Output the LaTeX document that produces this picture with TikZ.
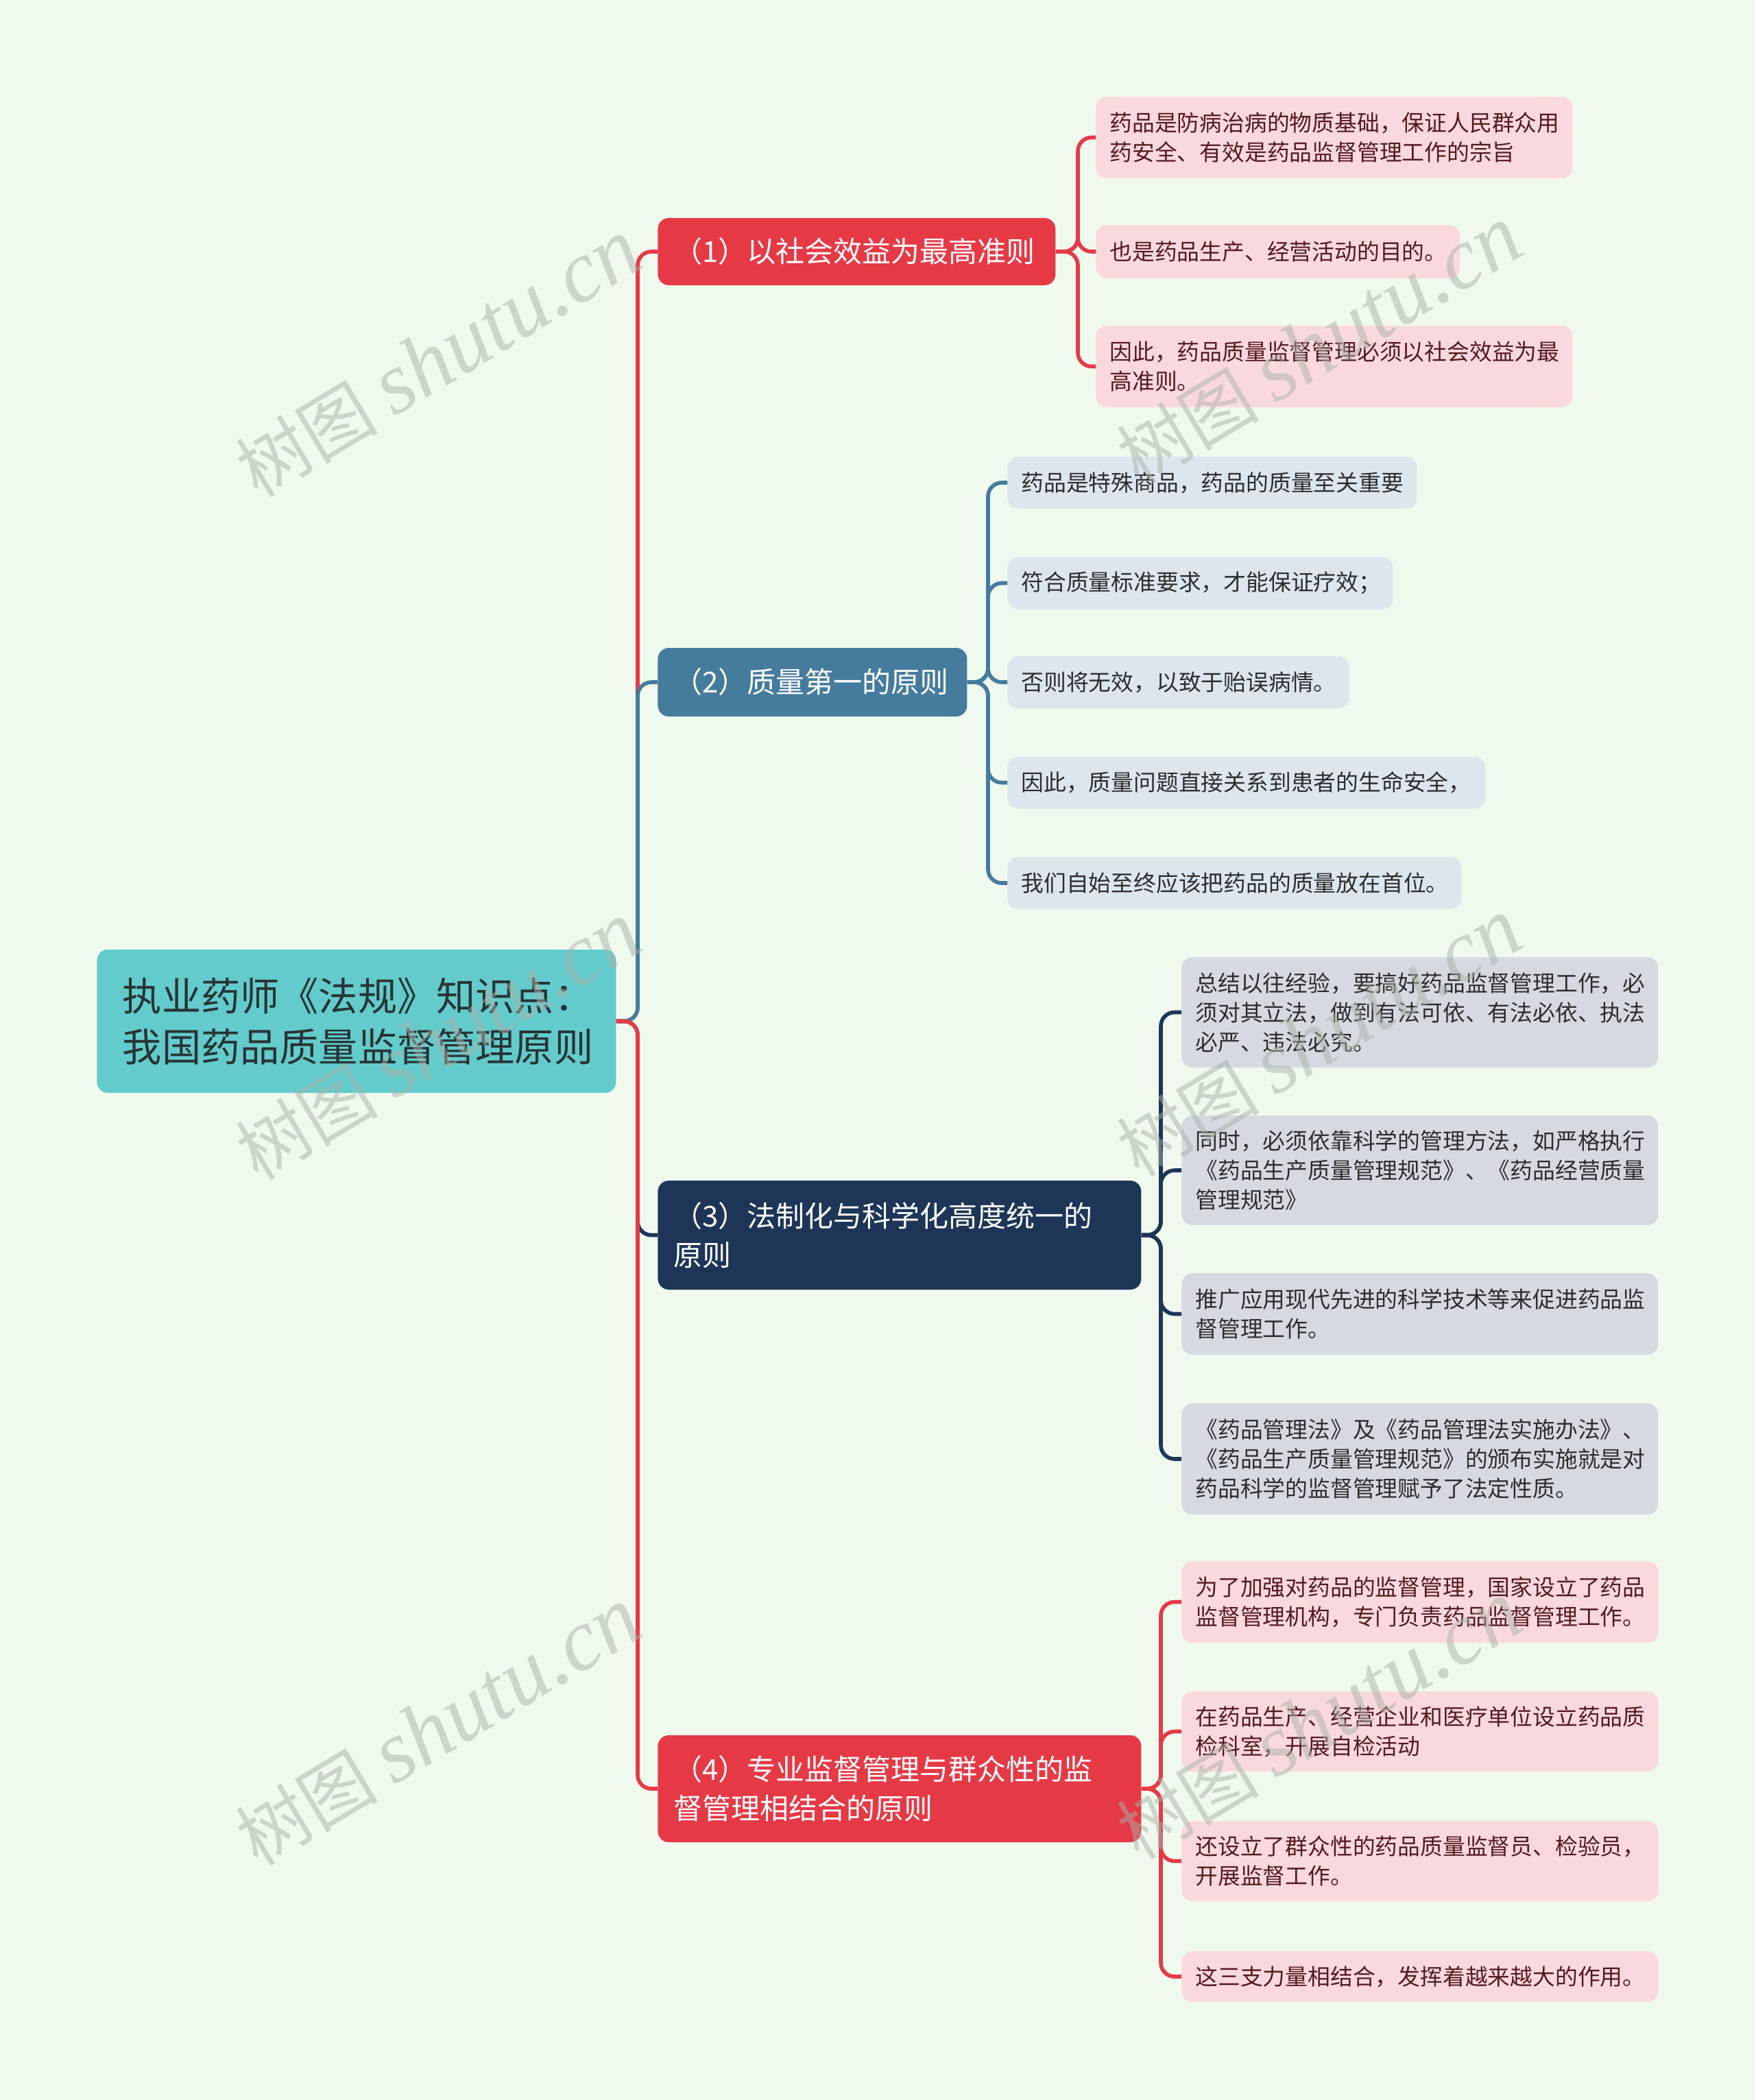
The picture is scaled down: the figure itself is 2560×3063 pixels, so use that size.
\documentclass[tikz,border=0pt]{standalone}
\usepackage{fontspec}
\setmainfont{Noto Sans CJK SC}
\newfontfamily\wmlatin{Liberation Serif}
\newfontfamily\cjk{Noto Sans CJK SC}
\definecolor{bgc}{RGB}{240,249,238}
\definecolor{rootc}{RGB}{99,203,204}
\definecolor{roottext}{RGB}{40,52,52}
\definecolor{redc}{RGB}{230,57,70}
\definecolor{bluec}{RGB}{69,123,157}
\definecolor{navyc}{RGB}{29,53,87}
\definecolor{pinkc}{RGB}{250,217,222}
\definecolor{pinktext}{RGB}{84,26,30}
\definecolor{lbluec}{RGB}{221,229,237}
\definecolor{grayc}{RGB}{214,218,224}
\definecolor{darktext}{RGB}{45,45,45}
\definecolor{wmc}{RGB}{170,178,170}
\begin{document}
\begin{tikzpicture}[x=0.5pt,y=-0.5pt,
  box/.style={rounded corners=8pt, inner sep=0pt, anchor=west, align=left},
  rootbox/.style={box, fill=rootc, text=roottext, font=\fontsize{28.6pt}{37pt}\selectfont},
  branchbox/.style={box, text=white, font=\fontsize{21pt}{28.5pt}\selectfont},
  leafbox/.style={box, font=\fontsize{16.4pt}{21.5pt}\selectfont},
  pinkleaf/.style={leafbox, fill=pinkc, text=pinktext},
  blueleaf/.style={leafbox, fill=lbluec, text=darktext},
  grayleaf/.style={leafbox, fill=grayc, text=darktext},
  conn/.style={line width=2.8pt, rounded corners=10pt},
  wm/.style={rotate=31, text=wmc, opacity=0.5}
]
\fill[bgc] (0,0) rectangle (2560,3063);
\useasboundingbox (0,0) rectangle (2560,3063);

% root
\node[rootbox, minimum width=378.5pt, minimum height=104.5pt, text width=341pt] (root) at (141,1489.5)
  {执业药师《法规》知识点：\\我国药品质量监督管理原则};

% branches
\node[branchbox, fill=redc, minimum width=290pt, minimum height=49pt, text width=267pt] (b1) at (959,367)
  {（1）以社会效益为最高准则};
\node[branchbox, fill=bluec, minimum width=225.5pt, minimum height=50pt, text width=202.5pt] (b2) at (959,995)
  {（2）质量第一的原则};
\node[branchbox, fill=navyc, minimum width=352.5pt, minimum height=79.5pt, text width=329.5pt] (b3) at (959,1801.5)
  {（3）法制化与科学化高度统一的\\原则};
\node[branchbox, fill=redc, minimum width=352.5pt, minimum height=78pt, text width=329.5pt] (b4) at (959,2609)
  {（4）专业监督管理与群众性的监\\督管理相结合的原则};

% leaves of (1)
\node[pinkleaf, minimum width=347.5pt, minimum height=59.5pt, text width=327.5pt] (l1a) at (1598,200.5)
  {药品是防病治病的物质基础，保证人民群众用\\药安全、有效是药品监督管理工作的宗旨};
\node[pinkleaf, minimum width=265.5pt, minimum height=39pt, text width=245.5pt] (l1b) at (1598,367)
  {也是药品生产、经营活动的目的。};
\node[pinkleaf, minimum width=347.5pt, minimum height=59.5pt, text width=327.5pt] (l1c) at (1598,534.5)
  {因此，药品质量监督管理必须以社会效益为最\\高准则。};

% leaves of (2)
\node[blueleaf, minimum width=298.5pt, minimum height=38pt, text width=278.5pt] (l2a) at (1469,704)
  {药品是特殊商品，药品的质量至关重要};
\node[blueleaf, minimum width=281pt, minimum height=38pt, text width=261pt] (l2b) at (1469,850.5)
  {符合质量标准要求，才能保证疗效；};
\node[blueleaf, minimum width=249pt, minimum height=38pt, text width=229pt] (l2c) at (1469,995)
  {否则将无效，以致于贻误病情。};
\node[blueleaf, minimum width=348.5pt, minimum height=38pt, text width=328.5pt] (l2d) at (1469,1141.5)
  {因此，质量问题直接关系到患者的生命安全，};
\node[blueleaf, minimum width=331pt, minimum height=38pt, text width=311pt] (l2e) at (1469,1288)
  {我们自始至终应该把药品的质量放在首位。};

% leaves of (3)
\node[grayleaf, minimum width=347.5pt, minimum height=80.5pt, text width=327.5pt] (l3a) at (1723,1476.5)
  {总结以往经验，要搞好药品监督管理工作，必\\须对其立法，做到有法可依、有法必依、执法\\必严、违法必究。};
\node[grayleaf, minimum width=347.5pt, minimum height=80pt, text width=327.5pt] (l3b) at (1723,1707)
  {同时，必须依靠科学的管理方法，如严格执行\\《药品生产质量管理规范》、《药品经营质量\\管理规范》};
\node[grayleaf, minimum width=347.5pt, minimum height=59.5pt, text width=327.5pt] (l3c) at (1723,1916.5)
  {推广应用现代先进的科学技术等来促进药品监\\督管理工作。};
\node[grayleaf, minimum width=347.5pt, minimum height=81pt, text width=327.5pt] (l3d) at (1723,2128)
  {《药品管理法》及《药品管理法实施办法》、\\《药品生产质量管理规范》的颁布实施就是对\\药品科学的监督管理赋予了法定性质。};

% leaves of (4)
\node[pinkleaf, minimum width=347.5pt, minimum height=59.5pt, text width=327.5pt] (l4a) at (1723,2336.5)
  {为了加强对药品的监督管理，国家设立了药品\\监督管理机构，专门负责药品监督管理工作。};
\node[pinkleaf, minimum width=347.5pt, minimum height=58.5pt, text width=327.5pt] (l4b) at (1723,2525.5)
  {在药品生产、经营企业和医疗单位设立药品质\\检科室，开展自检活动};
\node[pinkleaf, minimum width=347.5pt, minimum height=58.5pt, text width=327.5pt] (l4c) at (1723,2714.5)
  {还设立了群众性的药品质量监督员、检验员，\\开展监督工作。};
\node[pinkleaf, minimum width=347.5pt, minimum height=37pt, text width=327.5pt] (l4d) at (1723,2883)
  {这三支力量相结合，发挥着越来越大的作用。};

% spine coordinates
\coordinate (tx) at (930,0);
\coordinate (s1) at (1572,0);
\coordinate (s2) at (1441,0);
\coordinate (s3) at (1693,0);
\coordinate (s4) at (1693,0);

% main connectors
\draw[conn, redc]   (root.east) -- (root.east -| tx) |- (b1.west);
\draw[conn, bluec]  (root.east) -- (root.east -| tx) |- (b2.west);
\draw[conn, navyc]  (root.east) -- (root.east -| tx) |- (b3.west);
\draw[conn, redc]   (root.east) -- (root.east -| tx) |- (b4.west);

% leaf connectors
\foreach \l in {l1a,l1b,l1c}
  \draw[conn, redc] (b1.east) -- (b1.east -| s1) |- (\l.west);
\foreach \l in {l2a,l2b,l2c,l2d,l2e}
  \draw[conn, bluec] (b2.east) -- (b2.east -| s2) |- (\l.west);
\foreach \l in {l3a,l3b,l3c,l3d}
  \draw[conn, navyc] (b3.east) -- (b3.east -| s3) |- (\l.west);
\foreach \l in {l4a,l4b,l4c,l4d}
  \draw[conn, redc] (b4.east) -- (b4.east -| s4) |- (\l.west);

% watermarks
\node[wm] (w1) at (639,523)  {\cjk\fontsize{52pt}{60pt}\selectfont 树图 \wmlatin\itshape\fontsize{64pt}{70pt}\selectfont shutu.cn};
\node[wm] (w2) at (1924,504) {\cjk\fontsize{52pt}{60pt}\selectfont 树图 \wmlatin\itshape\fontsize{64pt}{70pt}\selectfont shutu.cn};
\node[wm] (w3) at (639,1519) {\cjk\fontsize{52pt}{60pt}\selectfont 树图 \wmlatin\itshape\fontsize{64pt}{70pt}\selectfont shutu.cn};
\node[wm] (w4) at (1924,1514){\cjk\fontsize{52pt}{60pt}\selectfont 树图 \wmlatin\itshape\fontsize{64pt}{70pt}\selectfont shutu.cn};
\node[wm] (w5) at (639,2519) {\cjk\fontsize{52pt}{60pt}\selectfont 树图 \wmlatin\itshape\fontsize{64pt}{70pt}\selectfont shutu.cn};
\node[wm] (w6) at (1924,2510){\cjk\fontsize{52pt}{60pt}\selectfont 树图 \wmlatin\itshape\fontsize{64pt}{70pt}\selectfont shutu.cn};
\end{tikzpicture}
\end{document}
